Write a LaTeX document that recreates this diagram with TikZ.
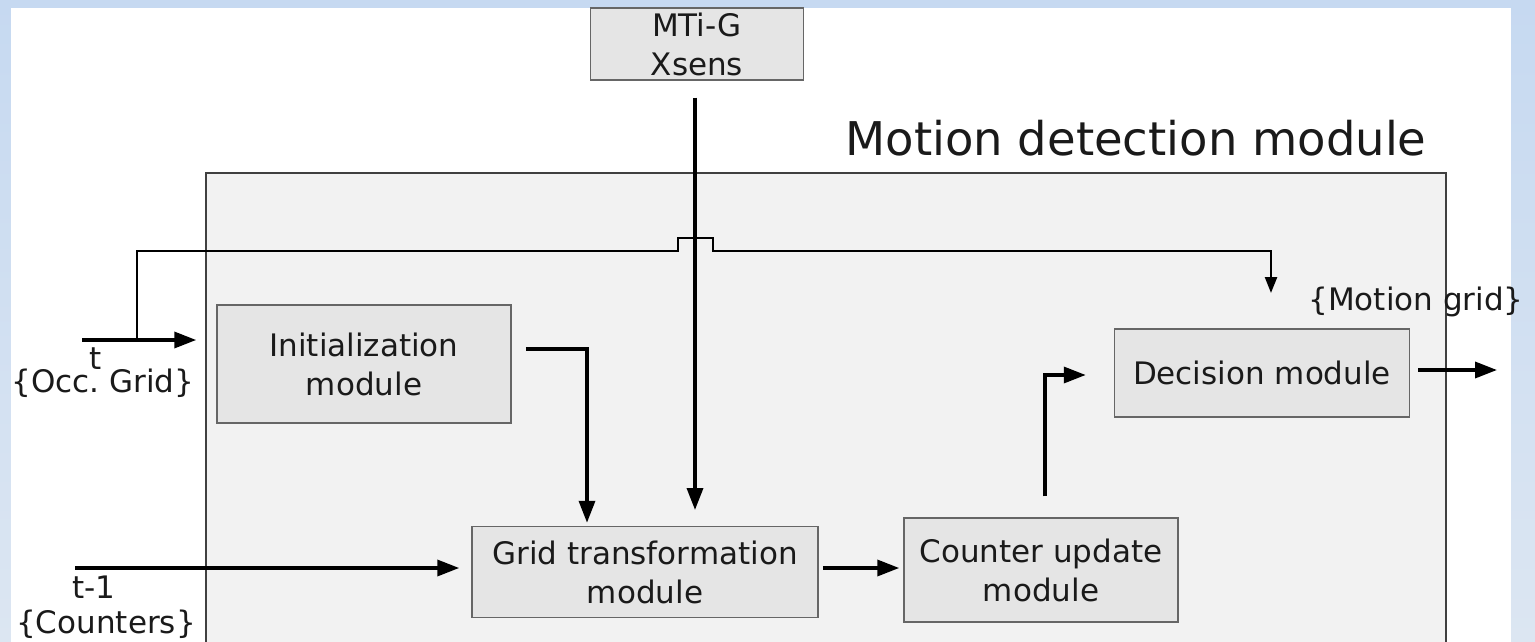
\documentclass[tikz,border=0pt]{standalone}
\usepackage{fontspec}
\setmainfont{DejaVu Sans}
\usetikzlibrary{arrows.meta,calc}
\definecolor{frametop}{HTML}{C6D9F1}
\definecolor{framebot}{HTML}{DCE6F2}
\definecolor{bigfill}{HTML}{F2F2F2}
\definecolor{boxfill}{HTML}{E5E5E5}
\definecolor{boxline}{HTML}{666666}
\definecolor{txt}{HTML}{1A1A1A}
\tikzset{
  module/.style={draw=boxline, line width=1.5pt, fill=boxfill, align=center, text=txt, inner sep=0pt,
    font=\fontsize{31}{39}\selectfont},
  lbl/.style={text=txt, inner sep=0pt, font=\fontsize{31}{37}\selectfont},
  bigarrow/.style={line width=3.5pt, -{Triangle[length=22pt,width=16pt]}},
  thinarrow/.style={line width=2.4pt, -{Triangle[length=16pt,width=12pt]}},
}
\begin{document}
\begin{tikzpicture}[x=1pt,y=-1pt]
\useasboundingbox (0,0) rectangle (1535,642);
% frame
\shade[top color=frametop, bottom color=framebot] (0,0) rectangle (1535,642);
\fill[white] (11,8) rectangle (1511,642);
% big module box
\fill[bigfill] (206,173) rectangle (1446,642);
\draw[draw=black!75, line width=2pt] (206,642) -- (206,173) -- (1446,173) -- (1446,642);
\node[lbl, font=\fontsize{46.5}{50}\selectfont] (title) at (1136,138) {Motion detection module};
% modules
\node[module, minimum width=213pt, minimum height=72pt] (mti) at (697,44) {MTi-G\\Xsens};
\node[module, minimum width=294pt, minimum height=118pt] (init) at (364,364) {Initialization\\module};
\node[module, minimum width=346pt, minimum height=91pt] (grid) at (645,572) {Grid transformation\\module};
\node[module, minimum width=274pt, minimum height=104pt] (counter) at (1041,570) {Counter update\\module};
\node[module, minimum width=295pt, minimum height=88pt] (decision) at (1262,373) {Decision module};
% labels
\node[lbl] (occ) at (103,383) {\{Occ.\ Grid\}};
\node[lbl] (tocc) at (96,359) {t};
\node[lbl] (tm1) at (94,587) {t-1};
\node[lbl] (cnt) at (106,624) {\{Counters\}};
\node[lbl] (mgrid) at (1416,302) {\{Motion grid\}};
% coordinates
\coordinate (occstart) at (82,340);
\coordinate (fbtop) at (137,251);
\coordinate (cntstart) at (75,568);
\coordinate (outend) at (1497,370);
% connectors
\draw[bigarrow] (occstart) -- ($(init.west)+(-20,-24)$);
\draw[line width=2.4pt] (137,341) -- (fbtop) -- (678,251) -- (678,238) -- (713,238) -- (713,251) -- (1271,251);
\draw[thinarrow] (1271,250) -- (1271,293);
\draw[bigarrow] ($(mti.south)+(-2,17)$) -- (695,510);
\draw[bigarrow] ($(init.east)+(14,-15)$) -- (587,349) -- ($(grid.north)+(-58,-3)$);
\draw[bigarrow] (cntstart) -- ($(grid.west)+(-12,-4)$);
\draw[bigarrow] ($(grid.east)+(4,-4)$) -- ($(counter.west)+(-4,-2)$);
\draw[bigarrow] ($(counter.north)+(4,-21)$) -- (1045,375) -- ($(decision.west)+(-28,2)$);
\draw[bigarrow] ($(decision.east)+(8,-3)$) -- (outend);
\end{tikzpicture}
\end{document}
